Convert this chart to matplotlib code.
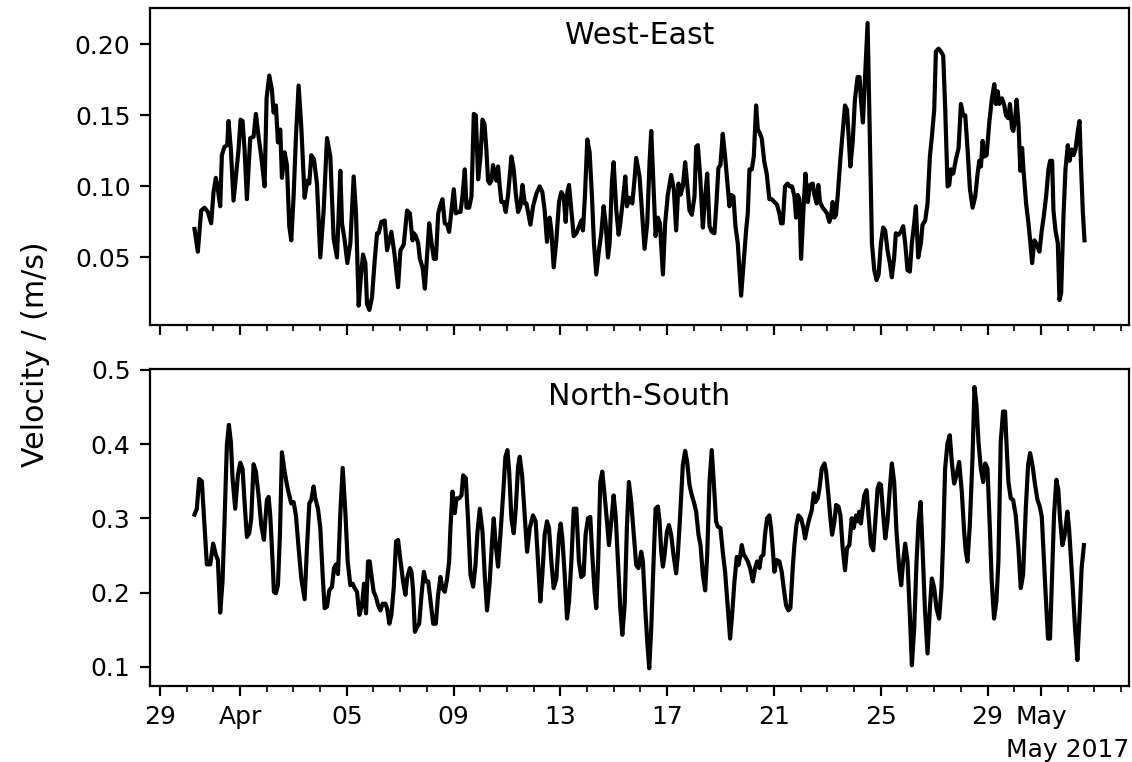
import numpy as np
import pandas as pd
import matplotlib
matplotlib.use("Agg")
import matplotlib.pyplot as plt
import matplotlib.dates as mdates

# Hours since 2017-03-30 00:00 and velocities (m/s)
we_hours = [
    7.1, 10.1, 13.1, 16.1, 19.1, 22.1, 24.2, 26.3, 28.1, 30.2, 31.7, 34.1, 36.5, 37.7, 39.8,
    42.2, 44.3, 46.7, 48.5, 50.3, 52.1, 54.2, 57.2, 60.2, 62.3, 64.7, 67.1, 70.1, 71.9, 74.3,
    76.7, 78.2, 80.3, 82.1, 84.2, 85.7, 88.1, 90.2, 92.3, 94.1, 96.2, 98.3, 100.7, 103.1, 106.1,
    108.5, 110.3, 112.1, 114.5, 117.2, 120.2, 123.2, 126.2, 129.2, 132.2, 135.2, 138.2, 139.7,
    142.1, 144.5, 147.2, 150.2, 152.3, 154.7, 156.8, 158.6, 160.7, 162.2, 164.3, 166.7, 169.1,
    171.2, 172.7, 175.1, 178.1, 180.2, 182.3, 184.1, 186.8, 190.1, 192.2, 195.2, 198.2,
    200.7, 203.1, 204.3, 206.1, 208.2, 209.7, 212.1, 214.2, 215.7, 218.1, 220.2, 222.3, 224.1,
    226.2, 228.2, 230.0, 232.1, 234.2, 236.0, 238.1, 240.2, 242.0, 244.1, 246.2, 248.0, 250.1,
    251.6, 254.0, 256.1, 258.2, 260.0, 262.1, 264.2, 266.0, 267.8, 269.5, 271.0, 272.5, 274.0,
    275.5, 277.0, 278.5, 280.0, 281.5, 283.0, 285.1, 286.9, 289.0, 292.0, 294.1, 295.9, 298.0,
    300.1, 301.9, 304.0, 305.5, 307.6, 309.1, 311.5, 314.5, 317.4, 319.8, 321.9, 324.0, 326.4,
    327.9, 330.0, 332.4, 334.8, 336.9, 339.0, 340.8, 342.3, 343.8, 345.9, 348.0, 350.4, 352.8,
    354.8, 356.3, 358.1, 360.2, 362.3, 364.4, 366.2, 368.3, 370.7, 372.8, 374.9, 376.7, 378.8,
    380.3, 382.4, 383.9, 386.3, 388.4, 389.9, 392.3, 394.4, 395.9, 398.3, 400.7, 402.7, 404.2,
    407.2, 409.3, 411.7, 414.1, 416.2, 417.7, 420.1, 421.6, 423.7, 425.5, 428.2, 430.2, 432.6,
    435.6, 438.0, 440.1, 442.2, 444.0, 446.1, 448.2, 450.0, 452.1, 454.2, 456.6, 458.1, 459.6,
    461.7, 464.1, 466.2, 468.0, 470.1, 472.1, 474.5, 476.3, 478.1, 479.9, 482.0, 484.1, 486.5,
    488.0, 489.5, 491.6, 493.4, 495.5, 498.5, 500.9, 503.0, 504.5, 506.0, 508.1, 509.9, 512.0,
    513.5, 515.0, 517.0, 519.4, 521.5, 523.9, 526.0, 528.4, 530.8, 532.9, 534.4, 535.9, 538.0,
    540.4, 542.2, 544.3, 546.4, 547.9, 549.4, 550.9, 552.4, 554.5, 556.3, 558.4, 560.5, 562.9,
    564.4, 566.4, 567.9, 569.4, 571.8, 573.9, 575.7, 577.8, 579.3, 580.8, 582.3, 583.8, 585.3,
    587.7, 589.8, 591.9, 593.7, 595.5, 596.7, 598.8, 600.8, 603.2, 605.0, 606.2, 608.0,
    612.2, 616.1, 618.2, 620.3, 622.1, 624.2, 626.2, 628.0, 630.1, 632.2, 634.0, 636.1, 637.6,
    640.0, 642.1, 644.2, 646.0, 648.1, 650.2, 652.0, 654.1, 655.6, 657.7, 660.1, 661.6, 664.0,
    666.1, 668.2, 670.0, 672.1, 673.6, 676.0, 678.1, 680.2, 682.0, 684.1, 685.6, 687.1, 689.2,
    691.6, 694.0, 696.1, 698.2, 700.0, 702.1, 704.2, 706.6, 709.0, 711.1, 712.6, 714.1, 715.6,
    717.1, 719.2, 721.6, 724.0, 726.1, 727.6, 729.1, 730.6, 733.0, 735.1, 736.6, 738.7, 740.2,
    742.0, 743.2, 744.7, 746.2, 748.0, 749.5, 751.1, 752.3, 754.7, 756.8, 758.6, 760.1, 762.2,
    764.3, 766.7, 768.8, 770.6, 772.7, 774.8, 776.3, 778.1, 779.3, 781.1, 783.2, 784.7, 786.2,
    788.3, 790.1, 792.2, 793.7, 795.8, 797.3, 799.1, 801.2, 802.7, 804.2, 805.7, 807.2,
]
we_speed = [
    0.070, 0.054, 0.083, 0.085, 0.082, 0.074, 0.096, 0.106, 0.098, 0.086, 0.122, 0.128, 0.129, 0.146, 0.126,
    0.090, 0.107, 0.126, 0.147, 0.146, 0.126, 0.091, 0.134, 0.135, 0.151, 0.135, 0.121, 0.100, 0.162, 0.178,
    0.168, 0.152, 0.157, 0.131, 0.140, 0.106, 0.124, 0.115, 0.072, 0.062, 0.093, 0.135, 0.171, 0.142, 0.092,
    0.104, 0.102, 0.122, 0.119, 0.102, 0.050, 0.083, 0.134, 0.121, 0.063, 0.050, 0.111, 0.074,
    0.062, 0.046, 0.060, 0.107, 0.081, 0.016, 0.038, 0.052, 0.046, 0.017, 0.013, 0.022, 0.048,
    0.067, 0.067, 0.075, 0.076, 0.055, 0.062, 0.068, 0.053, 0.029, 0.055, 0.059, 0.083,
    0.081, 0.062, 0.067, 0.065, 0.060, 0.049, 0.043, 0.028, 0.046, 0.074, 0.060, 0.049, 0.049,
    0.081, 0.087, 0.091, 0.074, 0.073, 0.068, 0.083, 0.098, 0.081, 0.082, 0.082, 0.093, 0.112,
    0.085, 0.085, 0.093, 0.151, 0.150, 0.105, 0.121, 0.147, 0.144, 0.126, 0.104, 0.102, 0.104,
    0.115, 0.108, 0.104, 0.114, 0.100, 0.089, 0.089, 0.082, 0.094, 0.121, 0.112, 0.095, 0.082,
    0.086, 0.101, 0.088, 0.088, 0.079, 0.073, 0.086, 0.095, 0.100, 0.096, 0.083, 0.061, 0.078,
    0.069, 0.043, 0.062, 0.089, 0.096, 0.093, 0.075, 0.096, 0.101, 0.083, 0.065, 0.067, 0.072,
    0.076, 0.069, 0.093, 0.133, 0.124, 0.093, 0.060, 0.038, 0.055, 0.067, 0.086, 0.074, 0.050,
    0.060, 0.104, 0.117, 0.083, 0.066, 0.074, 0.091, 0.107, 0.086, 0.092, 0.088, 0.105, 0.120,
    0.107, 0.083, 0.056, 0.074, 0.117, 0.139, 0.093, 0.065, 0.078, 0.074, 0.038, 0.074, 0.094,
    0.108, 0.098, 0.069, 0.102, 0.094, 0.100, 0.117, 0.102, 0.083, 0.080, 0.093, 0.128, 0.129,
    0.107, 0.071, 0.093, 0.109, 0.072, 0.068, 0.067, 0.088, 0.113, 0.115, 0.137, 0.121, 0.100,
    0.086, 0.094, 0.093, 0.072, 0.060, 0.023, 0.048, 0.069, 0.081, 0.112, 0.112, 0.121, 0.157,
    0.140, 0.138, 0.134, 0.117, 0.109, 0.091, 0.091, 0.089, 0.087, 0.081, 0.074, 0.074, 0.100,
    0.102, 0.100, 0.100, 0.093, 0.078, 0.094, 0.091, 0.049, 0.083, 0.109, 0.089, 0.101, 0.102,
    0.094, 0.088, 0.101, 0.089, 0.085, 0.083, 0.081, 0.075, 0.079, 0.089, 0.078, 0.080, 0.093,
    0.119, 0.138, 0.157, 0.154, 0.131, 0.114, 0.131, 0.161, 0.177, 0.177, 0.161, 0.145,
    0.215, 0.060, 0.041, 0.034, 0.038, 0.060, 0.071, 0.069, 0.055, 0.046, 0.036, 0.050, 0.067,
    0.066, 0.068, 0.072, 0.060, 0.041, 0.040, 0.060, 0.074, 0.086, 0.050, 0.060, 0.073, 0.076,
    0.088, 0.121, 0.135, 0.154, 0.195, 0.197, 0.195, 0.192, 0.154, 0.100, 0.101, 0.112, 0.109,
    0.119, 0.127, 0.158, 0.150, 0.150, 0.126, 0.098, 0.085, 0.093, 0.109, 0.118, 0.114, 0.132,
    0.121, 0.122, 0.145, 0.162, 0.172, 0.158, 0.167, 0.158, 0.162, 0.157, 0.150, 0.148, 0.158,
    0.141, 0.139, 0.147, 0.161, 0.142, 0.111, 0.127, 0.112, 0.088, 0.074, 0.060, 0.046, 0.062,
    0.059, 0.054, 0.069, 0.079, 0.093, 0.112, 0.118, 0.118, 0.083, 0.069, 0.060, 0.020, 0.025,
    0.079, 0.112, 0.129, 0.118, 0.126, 0.122, 0.126, 0.139, 0.146, 0.112, 0.082, 0.062,
]

ns_hours = [
    7.1, 9.2, 11.3, 13.7, 15.2, 16.7, 18.2, 21.2, 23.9, 26.3, 28.1, 30.2, 32.3, 34.1, 36.2,
    38.0, 39.8, 41.3, 43.7, 46.1, 48.2, 50.3, 52.1, 54.2, 56.3, 58.1, 60.2, 62.3, 64.7, 67.1,
    69.5, 70.7, 72.2, 73.7, 75.2, 77.3, 78.5, 80.3, 82.1, 83.9, 85.7, 88.1, 90.2, 92.3, 94.1,
    96.2, 98.3, 100.7, 103.1, 106.1, 108.2, 110.3, 112.1, 114.2, 115.7, 118.1, 120.2, 122.3,
    124.1, 126.2, 128.3, 130.7, 132.5, 134.3, 136.1, 138.2, 140.3, 142.7, 144.8, 147.2, 149.3,
    151.1, 153.2, 155.3, 157.7, 159.5, 161.3, 163.1, 164.6, 166.1, 168.2, 170.3, 172.1, 174.2,
    176.3, 178.7, 180.2, 182.3, 184.1, 186.2, 188.3, 190.1, 192.2, 194.6, 196.7, 198.2,
    200.7, 202.2, 203.7, 205.2, 207.3, 209.1, 211.2, 213.3, 215.1, 217.2, 219.3, 221.7, 224.0,
    226.1, 228.2, 230.0, 232.1, 234.2, 236.0, 237.2, 239.0, 241.1, 242.6, 245.0, 247.1, 248.6,
    251.0, 253.1, 255.2, 257.6, 259.7, 261.5, 263.6, 266.0, 268.0, 270.1, 272.5, 274.6, 276.1,
    277.9, 280.0, 282.1, 284.5, 286.6, 288.4, 289.9, 292.0, 294.1, 295.9, 298.0, 299.5, 301.6,
    304.0, 306.1, 308.5, 311.4, 313.8, 315.9, 318.0, 319.8, 321.9, 324.0, 325.8, 327.9, 330.0,
    332.4, 334.8, 336.3, 337.8, 339.9, 342.0, 343.8, 345.9, 348.0, 350.4, 352.7, 354.8, 356.9,
    358.7, 360.8, 362.9, 364.7, 366.8, 368.3, 369.8, 371.9, 373.7, 375.8, 377.9, 379.7, 381.8,
    383.9, 385.7, 387.8, 389.9, 391.7, 393.8, 395.8, 397.6, 399.7, 401.8, 404.2, 406.2,
    408.7, 410.2, 412.3, 414.1, 415.9, 417.7, 419.8, 421.6, 423.7, 425.2, 426.7, 428.2, 429.7,
    431.8, 433.6, 435.6, 437.7, 440.1, 441.6, 443.7, 446.1, 448.2, 450.0, 452.1, 454.2, 456.0,
    458.1, 460.2, 462.0, 464.1, 466.2, 468.0, 470.1, 472.1, 473.9, 476.0, 477.5, 479.9, 482.0,
    484.1, 486.5, 488.6, 490.4, 492.5, 494.6, 496.1, 497.9, 499.1, 500.9, 502.4, 504.5, 506.6,
    509.0, 511.1, 512.9, 515.0, 516.4, 518.5, 520.0, 521.8, 523.9, 525.4, 526.9, 528.4, 530.5,
    532.9, 535.0, 536.8, 538.9, 541.0, 542.8, 544.9, 546.4, 548.2, 550.0, 552.4, 554.5, 556.0,
    557.8, 559.9, 562.0, 563.8, 565.3, 567.4, 568.9, 571.0, 573.4, 574.9, 577.0, 578.8, 580.3,
    582.4, 583.9, 586.0, 587.8, 589.8, 591.9, 593.7, 595.8, 597.9, 599.7, 601.8, 603.3, 604.7,
    606.2, 607.7, 609.2, 611.3, 613.1, 615.2, 617.3, 619.1, 621.2, 622.7, 624.2, 626.3, 628.1,
    630.1, 632.2, 634.0, 636.1, 638.2, 640.6, 642.4, 644.2, 646.0, 648.1, 650.2, 652.0, 654.1,
    656.2, 658.0, 659.8, 661.6, 663.7, 666.1, 668.2, 670.0, 672.1, 674.1, 676.5, 678.6, 680.1,
    681.9, 684.0, 686.1, 687.9, 690.0, 692.1, 694.5, 696.9, 699.0, 700.5, 702.0, 704.1, 706.5,
    708.3, 710.1, 711.9, 714.0, 716.1, 717.9, 720.0, 722.0, 723.8, 725.9, 728.0, 729.8, 731.9,
    734.0, 735.8, 737.0, 738.8, 740.9, 743.0, 745.4, 747.8, 749.9, 752.0, 754.4, 756.5, 758.3,
    760.4, 762.8, 764.9, 767.0, 768.8, 770.8, 772.3, 774.4, 776.2, 777.7, 779.8, 781.9, 783.7,
    785.2, 787.3, 789.4, 791.8, 793.3, 796.3, 798.7, 800.8, 802.8, 804.6, 806.7,
]
ns_speed = [
    0.305, 0.313, 0.353, 0.350, 0.313, 0.278, 0.238, 0.238, 0.266, 0.251, 0.244, 0.173, 0.215, 0.296, 0.399,
    0.426, 0.403, 0.354, 0.313, 0.358, 0.375, 0.367, 0.322, 0.275, 0.280, 0.300, 0.373, 0.363, 0.331, 0.291,
    0.271, 0.296, 0.325, 0.329, 0.304, 0.242, 0.201, 0.199, 0.210, 0.278, 0.389, 0.363, 0.345, 0.331, 0.320,
    0.322, 0.304, 0.260, 0.219, 0.191, 0.260, 0.320, 0.325, 0.343, 0.327, 0.313, 0.287, 0.224,
    0.179, 0.181, 0.203, 0.208, 0.233, 0.238, 0.225, 0.307, 0.368, 0.309, 0.242, 0.210, 0.212,
    0.206, 0.201, 0.170, 0.183, 0.212, 0.172, 0.242, 0.242, 0.224, 0.201, 0.194, 0.183, 0.176,
    0.185, 0.185, 0.179, 0.158, 0.170, 0.206, 0.269, 0.271, 0.244, 0.215, 0.197, 0.219,
    0.233, 0.228, 0.201, 0.147, 0.154, 0.158, 0.197, 0.228, 0.215, 0.215, 0.188, 0.158, 0.158,
    0.197, 0.221, 0.206, 0.201, 0.219, 0.242, 0.287, 0.336, 0.307, 0.327, 0.327, 0.331, 0.358,
    0.354, 0.296, 0.224, 0.208, 0.237, 0.282, 0.313, 0.282, 0.224, 0.176, 0.215, 0.269, 0.300,
    0.264, 0.235, 0.278, 0.331, 0.383, 0.392, 0.365, 0.300, 0.280, 0.313, 0.370, 0.383, 0.358,
    0.302, 0.255, 0.287, 0.304, 0.296, 0.242, 0.188, 0.224, 0.278, 0.296, 0.287, 0.242, 0.206,
    0.219, 0.278, 0.293, 0.273, 0.224, 0.165, 0.188, 0.242, 0.313, 0.313, 0.242, 0.221, 0.224,
    0.278, 0.300, 0.302, 0.251, 0.201, 0.179, 0.233, 0.349, 0.363, 0.331, 0.296, 0.264, 0.296,
    0.331, 0.304, 0.242, 0.179, 0.143, 0.183, 0.287, 0.349, 0.322, 0.282, 0.237, 0.233,
    0.255, 0.242, 0.179, 0.134, 0.098, 0.152, 0.242, 0.313, 0.316, 0.296, 0.255, 0.235, 0.251,
    0.282, 0.291, 0.278, 0.251, 0.226, 0.251, 0.304, 0.372, 0.391, 0.376, 0.345, 0.331, 0.322,
    0.309, 0.278, 0.264, 0.224, 0.203, 0.251, 0.349, 0.392, 0.349, 0.296, 0.289, 0.287, 0.255,
    0.228, 0.179, 0.138, 0.170, 0.215, 0.248, 0.237, 0.251, 0.264, 0.251, 0.248, 0.242, 0.233,
    0.215, 0.233, 0.242, 0.233, 0.248, 0.251, 0.278, 0.300, 0.304, 0.287, 0.260, 0.228, 0.244,
    0.242, 0.228, 0.206, 0.183, 0.176, 0.179, 0.233, 0.264, 0.291, 0.304, 0.300, 0.287, 0.273,
    0.287, 0.300, 0.311, 0.334, 0.322, 0.327, 0.340, 0.367, 0.374, 0.363, 0.331, 0.300, 0.278,
    0.296, 0.318, 0.316, 0.304, 0.260, 0.230, 0.260, 0.264, 0.300, 0.287, 0.304, 0.296, 0.309,
    0.293, 0.313, 0.331, 0.338, 0.304, 0.264, 0.257, 0.296, 0.340, 0.347, 0.345, 0.304, 0.273,
    0.296, 0.340, 0.374, 0.349, 0.282, 0.233, 0.210, 0.242, 0.266, 0.242, 0.170, 0.102, 0.152,
    0.242, 0.296, 0.322, 0.260, 0.179, 0.118, 0.179, 0.219, 0.206, 0.179, 0.165, 0.206, 0.269,
    0.367, 0.401, 0.412, 0.376, 0.347, 0.358, 0.376, 0.336, 0.282, 0.255, 0.242, 0.291, 0.381,
    0.477, 0.453, 0.403, 0.367, 0.349, 0.374, 0.367, 0.291, 0.215, 0.165, 0.188, 0.242, 0.403,
    0.444, 0.444, 0.403, 0.349, 0.327, 0.325, 0.304, 0.260, 0.206, 0.224, 0.313, 0.372, 0.388,
    0.372, 0.345, 0.325, 0.316, 0.302, 0.242, 0.197, 0.138, 0.138, 0.206, 0.304, 0.352, 0.338,
    0.300, 0.264, 0.278, 0.309, 0.287, 0.215, 0.152, 0.109, 0.170, 0.233, 0.264,
]

titles = ["West-East", "North-South"]
ylabel = "Velocity / (m/s)"
start = pd.Timestamp("2017-03-30 00:00")

we_time = start + pd.to_timedelta(np.array(we_hours), unit="h")
ns_time = start + pd.to_timedelta(np.array(ns_hours), unit="h")

plt.rcParams["font.family"] = ["DejaVu Sans"]
plt.rcParams["font.size"] = 9

fig, (ax1, ax2) = plt.subplots(2, 1, sharex=True, figsize=(5.66, 3.81), dpi=200)
fig.subplots_adjust(left=150 / 1132, right=1129 / 1132, top=1 - 8 / 762,
                    bottom=1 - 686 / 762, hspace=44 / 317)

ax1.plot(we_time, we_speed, color="black", lw=1.5)
ax2.plot(ns_time, ns_speed, color="black", lw=1.5)

ax1.set_ylim(0.0024, 0.2256)
ax2.set_ylim(0.0741, 0.5013)
ax1.set_yticks([0.05, 0.10, 0.15, 0.20])
ax2.set_yticks([0.1, 0.2, 0.3, 0.4, 0.5])

for ax, t in zip((ax1, ax2), titles):
    ax.text(0.5, 0.886, t, transform=ax.transAxes, ha="center", va="baseline",
            fontsize=10.8)

locator = mdates.DayLocator(bymonthday=[1, 5, 9, 13, 17, 21, 25, 29])
formatter = mdates.ConciseDateFormatter(locator)
formatter.offset_formats = ["", "%Y", "%b %Y", "%d %b %Y", "%d %b %Y", "%d %b %Y %H:%M"]
ax2.xaxis.set_major_locator(locator)
ax2.xaxis.set_major_formatter(formatter)
ax2.xaxis.set_minor_locator(mdates.DayLocator())

fig.text(36 / 1132, 0.535, ylabel, rotation=90, ha="center", va="center", fontsize=10.8)

fig.savefig("out.png", dpi=200)
